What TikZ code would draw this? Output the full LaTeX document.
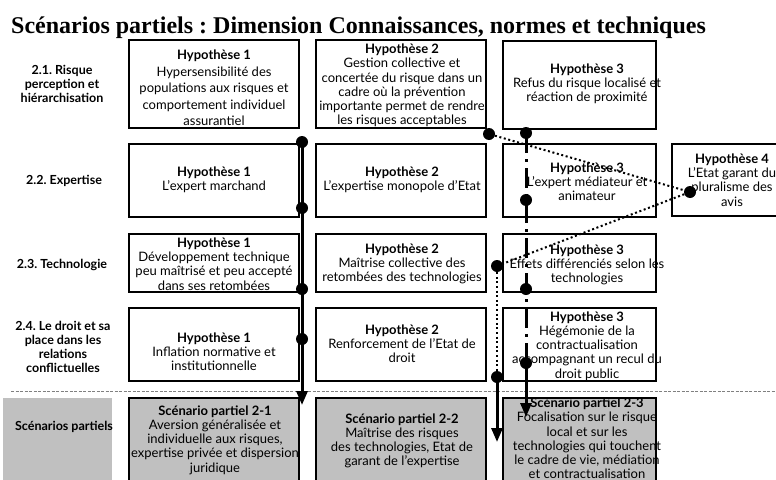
\documentclass[tikz,border=0pt]{standalone}
\usepackage{fontspec}
\setmainfont{Lato}
\newfontfamily\titlefont{Liberation Serif}
\usetikzlibrary{arrows.meta}
\frenchspacing
\definecolor{scengray}{HTML}{C0C0C0}
\tikzset{
  hypbox/.style={draw, line width=1.2pt, inner sep=0pt},
  scenbox/.style={hypbox, fill=scengray},
  hyptext/.style={align=center, inner sep=0pt, font=\fontsize{13}{14.2}\selectfont},
  rowlabel/.style={align=center, inner sep=0pt, font=\bfseries\fontsize{12.5}{14}\selectfont},
  dot/.style={circle, fill, inner sep=0pt, minimum size=12pt},
  solidpath/.style={line width=3pt},
  dashdotpath/.style={line width=3pt, dash pattern=on 20pt off 6pt on 3pt off 6pt},
  dotpath/.style={line width=2pt, dash pattern=on 2pt off 2.6pt},
  bigtip/.style={-{Triangle[width=11pt,length=14pt]}}
}
\begin{document}
\begin{tikzpicture}[x=1pt, y=-1pt]
	\useasboundingbox (0,0) rectangle (776,479);
	\node[anchor=base west, inner sep=0pt, font=\titlefont\bfseries\fontsize{24}{27}\selectfont] (title) at (11,33) {Scénarios partiels : Dimension Connaissances, normes et techniques};

	% row labels
	\node[rowlabel] (lab1) at (62,84) {2.1. Risque\\perception et\\hiérarchisation};
	\node[rowlabel] (lab2) at (64,181) {2.2. Expertise};
	\node[rowlabel] (lab3) at (62,265) {2.3. Technologie};
	\node[rowlabel] (lab4) at (63,347) {2.4. Le droit et sa\\place dans les\\relations\\conflictuelles};

	% hypothesis boxes
	\node[hypbox, minimum width=170pt, minimum height=88pt] (h11) at (214,84) {};
	\node[hypbox, minimum width=170pt, minimum height=88pt] (h12) at (401,84) {};
	\node[hypbox, minimum width=153pt, minimum height=88pt] (h13) at (579.5,85) {};
	\node[hypbox, minimum width=170pt, minimum height=73pt] (h21) at (214,180.5) {};
	\node[hypbox, minimum width=170pt, minimum height=73pt] (h22) at (401,180.5) {};
	\node[hypbox, minimum width=153pt, minimum height=73pt] (h23) at (579.5,180.5) {};
	\node[hypbox, minimum width=120pt, minimum height=72pt] (h24) at (732,180) {};
	\node[hypbox, minimum width=170pt, minimum height=58pt] (h31) at (214,263) {};
	\node[hypbox, minimum width=170pt, minimum height=58pt] (h32) at (401,263) {};
	\node[hypbox, minimum width=153pt, minimum height=58pt] (h33) at (579.5,263) {};
	\node[hypbox, minimum width=170pt, minimum height=73pt] (h41) at (214,344.5) {};
	\node[hypbox, minimum width=170pt, minimum height=73pt] (h42) at (401,344.5) {};
	\node[hypbox, minimum width=153pt, minimum height=73pt] (h43) at (579.5,344.5) {};

	\node[hyptext, font=\fontsize{13}{16.4}\selectfont] (t11) at (214,88) {\textbf{Hypothèse 1}\\Hypersensibilité des\\populations aux risques et\\comportement individuel\\assurantiel};
	\node[hyptext] (t12) at (402,85.5) {\textbf{Hypothèse 2}\\Gestion collective et\\concertée du risque dans un\\cadre où la prévention\\importante permet de rendre\\les risques acceptables};
	\node[hyptext] (t13) at (587,84) {\textbf{Hypothèse 3}\\Refus du risque localisé et\\réaction de proximité};
	\node[hyptext] (t21) at (214,180) {\textbf{Hypothèse 1}\\L’expert marchand};
	\node[hyptext] (t22) at (402,180) {\textbf{Hypothèse 2}\\L’expertise monopole d’Etat};
	\node[hyptext] (t23) at (587,182) {\textbf{Hypothèse 3}\\L’expert médiateur et\\animateur};
	\node[hyptext] (t24) at (732,180) {\textbf{Hypothèse 4}\\L’Etat garant du\\pluralisme des\\avis};
	\node[hyptext] (t31) at (214,264) {\textbf{Hypothèse 1}\\Développement technique\\peu maîtrisé et peu accepté\\dans ses retombées};
	\node[hyptext] (t32) at (402,264) {\textbf{Hypothèse 2}\\Maîtrise collective des\\retombées des technologies};
	\node[hyptext] (t33) at (587,265) {\textbf{Hypothèse 3}\\Effets différenciés selon les\\technologies};
	\node[hyptext] (t41) at (214,352) {\textbf{Hypothèse 1}\\Inflation normative et\\institutionnelle};
	\node[hyptext] (t42) at (402,344) {\textbf{Hypothèse 2}\\Renforcement de l’Etat de\\droit};
	\node[hyptext] (t43) at (587,346) {\textbf{Hypothèse 3}\\Hégémonie de la\\contractualisation\\accompagnant un recul du\\droit public};

	% separator
	\draw[gray, line width=1pt, dash pattern=on 3pt off 1.5pt] (11,391) -- (776,391);

	% partial scenarios
	\node[fill=scengray, minimum width=109pt, minimum height=92pt, inner sep=0pt] (scen0) at (57.5,444) {};
	\node[rowlabel] (lab5) at (64,427) {Scénarios partiels};
	\node[scenbox, minimum width=170pt, minimum height=92pt] (s1) at (214,444) {};
	\node[scenbox, minimum width=170pt, minimum height=92pt] (s2) at (401,444) {};
	\node[scenbox, minimum width=153pt, minimum height=92pt] (s3) at (579.5,444) {};
	\node[hyptext] (st1) at (215,440) {\textbf{Scénario partiel 2-1}\\Aversion généralisée et\\individuelle aux risques,\\expertise privée et dispersion\\juridique};
	\node[hyptext] (st2) at (402,441) {\textbf{Scénario partiel 2-2}\\Maîtrise des risques\\des technologies, Etat de\\garant de l’expertise};
	\node[hyptext] (st3) at (587,438.5) {\textbf{Scénario partiel 2-3}\\Focalisation sur le risque\\local et sur les\\technologies qui touchent\\le cadre de vie, médiation\\et contractualisation};

	% scenario 2-1
	\node[dot] (a1) at (302,142) {};
	\node[dot] (a2) at (302,208) {};
	\node[dot] (a3) at (302,289) {};
	\node[dot] (a4) at (302,339) {};
	\coordinate (a5) at (302,405);
	\draw[solidpath] (a1.center) -- (a4.center);
	\draw[solidpath, bigtip] (a4.center) -- (a5);

	% scenario 2-2
	\node[dot] (b1) at (489,134) {};
	\node[dot] (b2) at (690,192) {};
	\node[dot] (b3) at (497,266) {};
	\node[dot] (b4) at (497,377) {};
	\coordinate (b5) at (497,442);
	\draw[dotpath] (b1) -- (b2);
	\draw[dotpath] (b2) -- (b3);
	\draw[dotpath, line width=1.8pt] (b3) -- (b4);
	\draw[solidpath, bigtip] (b4.center) -- (b5);

	% scenario 2-3
	\node[dot] (c1) at (526,133) {};
	\node[dot] (c2) at (526,200) {};
	\node[dot] (c3) at (526,289) {};
	\node[dot] (c4) at (526,363) {};
	\coordinate (c5) at (526,417);
	\draw[dashdotpath] (c1.center) -- (c2.center) -- (c3.center) -- (c4.center);
	\draw[solidpath, bigtip] (c4.center) -- (c5);
\end{tikzpicture}
\end{document}
